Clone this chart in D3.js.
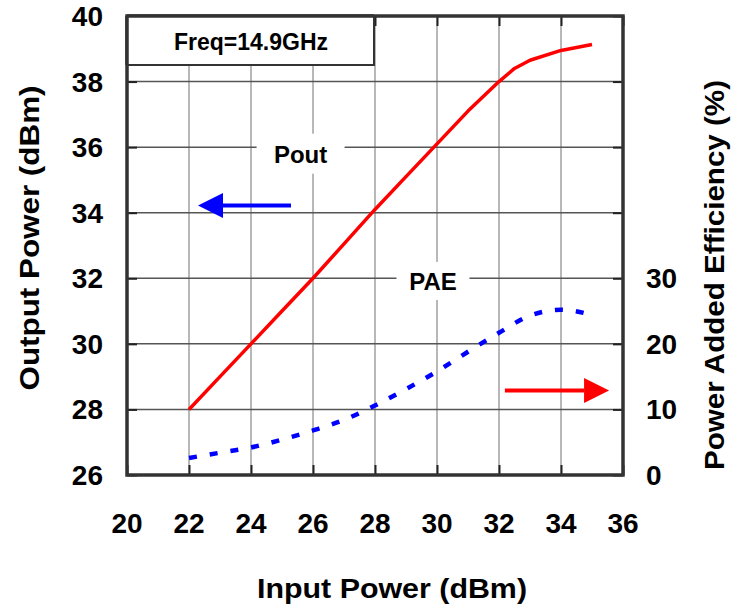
<!DOCTYPE html>
<html>
<head>
<meta charset="utf-8">
<script src="https://cdn.jsdelivr.net/npm/d3@7"></script>
<style>
  body { margin: 0; background: #fff; }
  text { font-family: "Liberation Sans", Arial, sans-serif; font-weight: bold; fill: #000; }
</style>
</head>
<body>
<div id="chart"></div>
<script>
// input power (dBm)
var pin = [22, 23, 24, 25, 26, 27, 28, 29, 30, 31, 32, 32.5, 33, 34, 35];
// output power (dBm)
var pout = [28.0, 29.0, 30.0, 31.0, 32.0, 33.05, 34.1, 35.1, 36.1, 37.1, 38.0, 38.4, 38.65, 38.95, 39.13];
// power added efficiency (%)
var paeX = [22, 23, 24, 25, 26, 27, 28, 29, 30, 31, 32, 33, 34, 35];
var pae = [2.6, 3.4, 4.2, 5.4, 6.8, 8.4, 10.6, 13.1, 15.8, 18.8, 21.7, 24.3, 25.2, 24.4];

var xTicks = [20, 22, 24, 26, 28, 30, 32, 34, 36];
var yLeftTicks = [26, 28, 30, 32, 34, 36, 38, 40];
var yRightTicks = [0, 10, 20, 30];

var W = 745, H = 610;
var svg = d3.select("#chart").append("svg")
    .attr("width", W).attr("height", H);

var x = d3.scaleLinear().domain([20, 36]).range([127, 623]);
var yL = d3.scaleLinear().domain([26, 40]).range([475, 16]);
var yR = d3.scaleLinear().domain([0, 70]).range([475, 16]);

// gridlines
svg.append("g").selectAll("line")
    .data(xTicks.slice(1, -1)).enter().append("line")
    .attr("x1", function(d) { return x(d); }).attr("x2", function(d) { return x(d); })
    .attr("y1", yL(26)).attr("y2", yL(40))
    .attr("stroke", "#a0a0a0").attr("stroke-width", 1.5);
svg.append("g").selectAll("line")
    .data(yLeftTicks.slice(1, -1)).enter().append("line")
    .attr("x1", x(20)).attr("x2", x(36))
    .attr("y1", function(d) { return yL(d); }).attr("y2", function(d) { return yL(d); })
    .attr("stroke", "#555").attr("stroke-width", 1.5);

// inner ticks
function darkTicks(g) {
    g.select(".domain").remove();
    g.selectAll("line").attr("stroke", "#222").attr("stroke-width", 2);
}
svg.append("g").attr("transform", "translate(0," + yL(26) + ")")
    .call(d3.axisBottom(x).tickValues(xTicks).tickSize(-10).tickFormat(""))
    .call(darkTicks);
svg.append("g").attr("transform", "translate(0," + yL(40) + ")")
    .call(d3.axisTop(x).tickValues(xTicks).tickSize(-10).tickFormat(""))
    .call(darkTicks);
svg.append("g").attr("transform", "translate(" + x(20) + ",0)")
    .call(d3.axisLeft(yL).tickValues(yLeftTicks).tickSize(-10).tickFormat(""))
    .call(darkTicks);
svg.append("g").attr("transform", "translate(" + x(36) + ",0)")
    .call(d3.axisRight(yL).tickValues(yLeftTicks).tickSize(-10).tickFormat(""))
    .call(darkTicks);

// tick labels
svg.append("g").selectAll("text").data(xTicks).enter().append("text")
    .attr("x", function(d) { return x(d); }).attr("y", 533)
    .attr("text-anchor", "middle").style("font-size", "28px")
    .text(function(d) { return d; });
svg.append("g").selectAll("text").data(yLeftTicks).enter().append("text")
    .attr("x", 103).attr("y", function(d) { return yL(d) + 10; })
    .attr("text-anchor", "end").style("font-size", "28px")
    .text(function(d) { return d; });
svg.append("g").selectAll("text").data(yRightTicks).enter().append("text")
    .attr("x", 646).attr("y", function(d) { return yR(d) + 10; })
    .attr("text-anchor", "start").style("font-size", "28px")
    .text(function(d) { return d; });

// axis titles
svg.append("text").attr("x", 392).attr("y", 598)
    .attr("text-anchor", "middle").style("font-size", "27px")
    .attr("textLength", 270).attr("lengthAdjust", "spacingAndGlyphs")
    .text("Input Power (dBm)");
svg.append("text").attr("transform", "translate(39,238) rotate(-90)")
    .attr("text-anchor", "middle").style("font-size", "27px")
    .attr("textLength", 305).attr("lengthAdjust", "spacingAndGlyphs")
    .text("Output Power (dBm)");
svg.append("text").attr("transform", "translate(724,275) rotate(-90)")
    .attr("text-anchor", "middle").style("font-size", "27px")
    .attr("textLength", 390).attr("lengthAdjust", "spacingAndGlyphs")
    .text("Power Added Efficiency (%)");

// curve labels with white backing
function label(txt, cx, cy, w, h) {
    svg.append("rect").attr("x", cx - w / 2).attr("y", cy - h / 2)
        .attr("width", w).attr("height", h).attr("fill", "#fff");
    svg.append("text").attr("x", cx).attr("y", cy + 9)
        .attr("text-anchor", "middle").style("font-size", "24px").text(txt);
}
label("Pout", x(25.6), yL(35.8), 88, 40);
label("PAE", x(29.87), yR(29.6), 73, 38);

// lines
var poutLine = d3.line()
    .x(function(d, i) { return x(pin[i]); })
    .y(function(d) { return yL(d); });
svg.append("path").datum(pout)
    .attr("d", poutLine).attr("fill", "none")
    .attr("stroke", "#ff0000").attr("stroke-width", 3.5)
    .attr("stroke-linejoin", "round");

var paeLine = d3.line()
    .x(function(d, i) { return x(paeX[i]); })
    .y(function(d) { return yR(d); })
    .curve(d3.curveMonotoneX);
svg.append("path").datum(pae)
    .attr("d", paeLine).attr("fill", "none")
    .attr("stroke", "#0000ff").attr("stroke-width", 4.5)
    .attr("stroke-dasharray", "8,13");

// arrows
function arrow(x1, x2, yy, color) {
    var dir = x2 > x1 ? 1 : -1;
    var hx = x2 - dir * 25;
    svg.append("line").attr("x1", x1).attr("x2", hx).attr("y1", yy).attr("y2", yy)
        .attr("stroke", color).attr("stroke-width", 4);
    svg.append("path")
        .attr("d", "M" + x2 + "," + yy + "L" + hx + "," + (yy - 12.5) + "L" + hx + "," + (yy + 12.5) + "Z")
        .attr("fill", color);
}
arrow(x(25.29), x(22.29), yL(34.22), "#0000ff");
arrow(x(32.19), x(35.55), yR(12.9), "#ff0000");

// frame
svg.append("rect").attr("x", x(20)).attr("y", yL(40))
    .attr("width", x(36) - x(20)).attr("height", yL(26) - yL(40))
    .attr("fill", "none").attr("stroke", "#333").attr("stroke-width", 3.5);

// frequency box
svg.append("rect").attr("x", x(20)).attr("y", yL(40))
    .attr("width", 247).attr("height", 49)
    .attr("fill", "#fff").attr("stroke", "#333").attr("stroke-width", 2);
svg.append("line").attr("x1", x(20)).attr("x2", x(20)).attr("y1", yL(40)).attr("y2", yL(40) + 49)
    .attr("stroke", "#333").attr("stroke-width", 3.5);
svg.append("line").attr("x1", x(20)).attr("x2", x(20) + 247).attr("y1", yL(40)).attr("y2", yL(40))
    .attr("stroke", "#333").attr("stroke-width", 3.5);
svg.append("text").attr("x", x(20) + 124).attr("y", 50)
    .attr("text-anchor", "middle").style("font-size", "23px")
    .text("Freq=14.9GHz");
</script>
</body>
</html>
